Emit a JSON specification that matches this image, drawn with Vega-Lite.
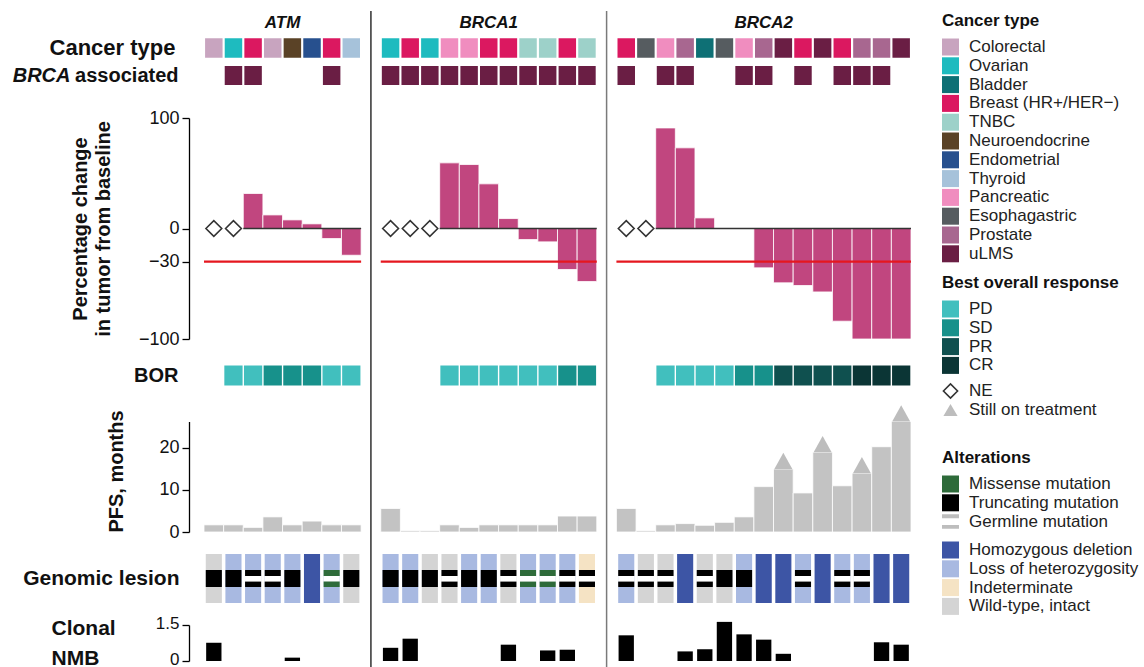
{
"$schema": "https://vega.github.io/schema/vega-lite/v6.json",
"padding": {"left": 12, "top": 10, "right": 0, "bottom": 0},
"datasets": {
"pts": [
{"pid":"A1","cancer":"Colorectal","ba":0,"pct":null,"ne":"NE","bor":null,"pfs":1.7,"still":null,"cn":"Wild-type, intact","mut":"Truncating mutation","germ":0,"nmb":0.76},
{"pid":"A2","cancer":"Ovarian","ba":1,"pct":null,"ne":"NE","bor":"PD","pfs":1.7,"still":null,"cn":"Loss of heterozygosity","mut":"Truncating mutation","germ":0,"nmb":null},
{"pid":"A3","cancer":"Breast (HR+/HER−)","ba":1,"pct":31.7,"ne":null,"bor":"PD","pfs":1.1,"still":null,"cn":"Loss of heterozygosity","mut":"Truncating mutation","germ":1,"nmb":null},
{"pid":"A4","cancer":"Colorectal","ba":0,"pct":12.3,"ne":null,"bor":"SD","pfs":3.6,"still":null,"cn":"Loss of heterozygosity","mut":"Truncating mutation","germ":1,"nmb":null},
{"pid":"A5","cancer":"Neuroendocrine","ba":0,"pct":7.8,"ne":null,"bor":"SD","pfs":1.7,"still":null,"cn":"Loss of heterozygosity","mut":"Truncating mutation","germ":0,"nmb":0.14},
{"pid":"A6","cancer":"Endometrial","ba":0,"pct":4.2,"ne":null,"bor":"SD","pfs":2.6,"still":null,"cn":"Homozygous deletion","mut":null,"germ":0,"nmb":null},
{"pid":"A7","cancer":"Breast (HR+/HER−)","ba":1,"pct":-9.1,"ne":null,"bor":"PD","pfs":1.7,"still":null,"cn":"Loss of heterozygosity","mut":"Missense mutation","germ":1,"nmb":null},
{"pid":"A8","cancer":"Thyroid","ba":0,"pct":-24.2,"ne":null,"bor":"PD","pfs":1.7,"still":null,"cn":"Wild-type, intact","mut":"Truncating mutation","germ":0,"nmb":null},
{"pid":"B1","cancer":"Ovarian","ba":1,"pct":null,"ne":"NE","bor":null,"pfs":5.6,"still":null,"cn":"Loss of heterozygosity","mut":"Truncating mutation","germ":0,"nmb":0.55},
{"pid":"B2","cancer":"Breast (HR+/HER−)","ba":1,"pct":null,"ne":"NE","bor":null,"pfs":0.3,"still":null,"cn":"Loss of heterozygosity","mut":"Truncating mutation","germ":0,"nmb":0.93},
{"pid":"B3","cancer":"Ovarian","ba":1,"pct":null,"ne":"NE","bor":null,"pfs":0.3,"still":null,"cn":"Wild-type, intact","mut":"Truncating mutation","germ":0,"nmb":null},
{"pid":"B4","cancer":"Pancreatic","ba":1,"pct":59.4,"ne":null,"bor":"PD","pfs":1.7,"still":null,"cn":"Wild-type, intact","mut":"Truncating mutation","germ":1,"nmb":null},
{"pid":"B5","cancer":"Pancreatic","ba":1,"pct":57.9,"ne":null,"bor":"PD","pfs":1.1,"still":null,"cn":"Loss of heterozygosity","mut":"Truncating mutation","germ":0,"nmb":null},
{"pid":"B6","cancer":"Breast (HR+/HER−)","ba":1,"pct":40.4,"ne":null,"bor":"PD","pfs":1.7,"still":null,"cn":"Loss of heterozygosity","mut":"Truncating mutation","germ":0,"nmb":null},
{"pid":"B7","cancer":"Breast (HR+/HER−)","ba":1,"pct":9.0,"ne":null,"bor":"PD","pfs":1.7,"still":null,"cn":"Wild-type, intact","mut":"Truncating mutation","germ":1,"nmb":0.68},
{"pid":"B8","cancer":"TNBC","ba":1,"pct":-10.0,"ne":null,"bor":"PD","pfs":1.7,"still":null,"cn":"Loss of heterozygosity","mut":"Missense mutation","germ":1,"nmb":null},
{"pid":"B9","cancer":"TNBC","ba":1,"pct":-12.1,"ne":null,"bor":"PD","pfs":1.7,"still":null,"cn":"Loss of heterozygosity","mut":"Missense mutation","germ":1,"nmb":0.44},
{"pid":"B10","cancer":"Breast (HR+/HER−)","ba":1,"pct":-37.1,"ne":null,"bor":"SD","pfs":3.8,"still":null,"cn":"Loss of heterozygosity","mut":"Truncating mutation","germ":1,"nmb":0.47},
{"pid":"B11","cancer":"TNBC","ba":1,"pct":-48.0,"ne":null,"bor":"SD","pfs":3.8,"still":null,"cn":"Indeterminate","mut":"Truncating mutation","germ":1,"nmb":null},
{"pid":"C1","cancer":"Breast (HR+/HER−)","ba":1,"pct":null,"ne":"NE","bor":null,"pfs":5.6,"still":null,"cn":"Loss of heterozygosity","mut":"Truncating mutation","germ":1,"nmb":1.07},
{"pid":"C2","cancer":"Esophagastric","ba":0,"pct":null,"ne":"NE","bor":null,"pfs":0.3,"still":null,"cn":"Wild-type, intact","mut":"Truncating mutation","germ":1,"nmb":null},
{"pid":"C3","cancer":"Pancreatic","ba":1,"pct":91,"ne":null,"bor":"PD","pfs":1.7,"still":null,"cn":"Wild-type, intact","mut":"Truncating mutation","germ":1,"nmb":null},
{"pid":"C4","cancer":"Prostate","ba":1,"pct":73,"ne":null,"bor":"PD","pfs":2.0,"still":null,"cn":"Homozygous deletion","mut":null,"germ":0,"nmb":0.40},
{"pid":"C5","cancer":"Bladder","ba":0,"pct":9.6,"ne":null,"bor":"PD","pfs":1.6,"still":null,"cn":"Wild-type, intact","mut":"Truncating mutation","germ":1,"nmb":0.49},
{"pid":"C6","cancer":"Esophagastric","ba":0,"pct":0,"ne":null,"bor":"PD","pfs":2.3,"still":null,"cn":"Wild-type, intact","mut":"Truncating mutation","germ":0,"nmb":1.63},
{"pid":"C7","cancer":"Pancreatic","ba":1,"pct":0,"ne":null,"bor":"SD","pfs":3.6,"still":null,"cn":"Loss of heterozygosity","mut":"Truncating mutation","germ":0,"nmb":1.11},
{"pid":"C8","cancer":"Prostate","ba":1,"pct":-35.6,"ne":null,"bor":"SD","pfs":10.8,"still":null,"cn":"Homozygous deletion","mut":null,"germ":0,"nmb":0.89},
{"pid":"C9","cancer":"uLMS","ba":0,"pct":-49.2,"ne":null,"bor":"PR","pfs":15.0,"still":"Still on treatment","cn":"Homozygous deletion","mut":null,"germ":0,"nmb":0.30},
{"pid":"C10","cancer":"Breast (HR+/HER−)","ba":1,"pct":-51.6,"ne":null,"bor":"PR","pfs":9.3,"still":null,"cn":"Loss of heterozygosity","mut":"Truncating mutation","germ":1,"nmb":null},
{"pid":"C11","cancer":"uLMS","ba":0,"pct":-57.4,"ne":null,"bor":"PR","pfs":19.0,"still":"Still on treatment","cn":"Homozygous deletion","mut":null,"germ":0,"nmb":null},
{"pid":"C12","cancer":"Breast (HR+/HER−)","ba":1,"pct":-83.9,"ne":null,"bor":"PR","pfs":11.0,"still":null,"cn":"Loss of heterozygosity","mut":"Truncating mutation","germ":1,"nmb":null},
{"pid":"C13","cancer":"Prostate","ba":1,"pct":-100,"ne":null,"bor":"CR","pfs":14.0,"still":"Still on treatment","cn":"Loss of heterozygosity","mut":"Truncating mutation","germ":1,"nmb":null},
{"pid":"C14","cancer":"Prostate","ba":1,"pct":-100,"ne":null,"bor":"CR","pfs":20.3,"still":null,"cn":"Homozygous deletion","mut":null,"germ":0,"nmb":0.78},
{"pid":"C15","cancer":"uLMS","ba":0,"pct":-100,"ne":null,"bor":"CR","pfs":26.3,"still":"Still on treatment","cn":"Homozygous deletion","mut":null,"germ":0,"nmb":0.68}
],
"panels": [
{"gene":"ATM","first":"A1","last":"A8","z0":"A3","mid":"A4"},
{"gene":"BRCA1","first":"B1","last":"B11","z0":"B4","mid":"B6"},
{"gene":"BRCA2","first":"C1","last":"C15","z0":"C3","mid":"C8"}
]
},
"vconcat": [
{
"width": 707, "height": 23,
"layer": [
{"data": {"values": [{}]}, "mark": {"type": "rule", "color": "#111111", "strokeWidth": 1.3}, "encoding": {"x": {"datum": "g1", "type": "nominal", "scale": {"domain": ["A1","A2","A3","A4","A5","A6","A7","A8","g1","B1","B2","B3","B4","B5","B6","B7","B8","B9","B10","B11","g2","C1","C2","C3","C4","C5","C6","C7","C8","C9","C10","C11","C12","C13","C14","C15"], "paddingInner": 0, "paddingOuter": 0}, "axis": null}}},
{"data": {"values": [{}]}, "mark": {"type": "rule", "color": "#7a7a7a", "strokeWidth": 1.5}, "encoding": {"x": {"datum": "g2", "type": "nominal", "scale": {"domain": ["A1","A2","A3","A4","A5","A6","A7","A8","g1","B1","B2","B3","B4","B5","B6","B7","B8","B9","B10","B11","g2","C1","C2","C3","C4","C5","C6","C7","C8","C9","C10","C11","C12","C13","C14","C15"], "paddingInner": 0, "paddingOuter": 0}, "axis": null}}},
{"data": {"name": "panels"}, "transform": [{"filter": "datum.gene === 'ATM'"}], "mark": {"type": "text", "fontSize": 17, "fontWeight": "bold", "fontStyle": "italic", "color": "#111111", "baseline": "middle"}, "encoding": {"x": {"field": "mid", "type": "nominal", "bandPosition": 1, "scale": {"domain": ["A1","A2","A3","A4","A5","A6","A7","A8","g1","B1","B2","B3","B4","B5","B6","B7","B8","B9","B10","B11","g2","C1","C2","C3","C4","C5","C6","C7","C8","C9","C10","C11","C12","C13","C14","C15"], "paddingInner": 0, "paddingOuter": 0}, "axis": null}, "text": {"field": "gene"}}},
{"data": {"name": "panels"}, "transform": [{"filter": "datum.gene !== 'ATM'"}], "mark": {"type": "text", "fontSize": 17, "fontWeight": "bold", "fontStyle": "italic", "color": "#111111", "baseline": "middle"}, "encoding": {"x": {"field": "mid", "type": "nominal", "scale": {"domain": ["A1","A2","A3","A4","A5","A6","A7","A8","g1","B1","B2","B3","B4","B5","B6","B7","B8","B9","B10","B11","g2","C1","C2","C3","C4","C5","C6","C7","C8","C9","C10","C11","C12","C13","C14","C15"], "paddingInner": 0, "paddingOuter": 0}, "axis": null}, "text": {"field": "gene"}}}
]
},
{
"width": 707, "height": 28,
"layer": [
{"data": {"values": [{}]}, "mark": {"type": "rule", "color": "#111111", "strokeWidth": 1.3}, "encoding": {"x": {"datum": "g1", "type": "nominal", "scale": {"domain": ["A1","A2","A3","A4","A5","A6","A7","A8","g1","B1","B2","B3","B4","B5","B6","B7","B8","B9","B10","B11","g2","C1","C2","C3","C4","C5","C6","C7","C8","C9","C10","C11","C12","C13","C14","C15"], "paddingInner": 0, "paddingOuter": 0}, "axis": null}}},
{"data": {"values": [{}]}, "mark": {"type": "rule", "color": "#7a7a7a", "strokeWidth": 1.5}, "encoding": {"x": {"datum": "g2", "type": "nominal", "scale": {"domain": ["A1","A2","A3","A4","A5","A6","A7","A8","g1","B1","B2","B3","B4","B5","B6","B7","B8","B9","B10","B11","g2","C1","C2","C3","C4","C5","C6","C7","C8","C9","C10","C11","C12","C13","C14","C15"], "paddingInner": 0, "paddingOuter": 0}, "axis": null}}},
{"data": {"name": "pts"}, "mark": {"type": "rect", "width": {"band": 0.89}},
 "encoding": {
  "x": {"field": "pid", "type": "nominal", "scale": {"domain": ["A1","A2","A3","A4","A5","A6","A7","A8","g1","B1","B2","B3","B4","B5","B6","B7","B8","B9","B10","B11","g2","C1","C2","C3","C4","C5","C6","C7","C8","C9","C10","C11","C12","C13","C14","C15"], "paddingInner": 0, "paddingOuter": 0}, "axis": null},
  "y": {"datum": "Cancer type", "type": "nominal", "scale": {"paddingInner": 0, "paddingOuter": 0.218}, "axis": {"title": null, "ticks": false, "tickSize": 0, "domain": false, "labelFontSize": 22, "labelFontWeight": "bold", "labelPadding": 29, "labelColor": "#111111"}},
  "color": {"field": "cancer", "type": "nominal", "scale": {"domain": ["Colorectal","Ovarian","Bladder","Breast (HR+/HER−)","TNBC","Neuroendocrine","Endometrial","Thyroid","Pancreatic","Esophagastric","Prostate","uLMS"], "range": ["#c8a4bf","#1ebbbf","#0e7075","#db1860","#9dd1c9","#5a4226","#27508e","#a6c2da","#f08dbf","#565c60","#a86790","#6a1e44"]}, "legend": {"title": "Cancer type", "orient": "none", "legendX": 738, "legendY": -21}}
 }}
]
},
{
"width": 707, "height": 27,
"layer": [
{"data": {"values": [{}]}, "mark": {"type": "rule", "color": "#111111", "strokeWidth": 1.3}, "encoding": {"x": {"datum": "g1", "type": "nominal", "scale": {"domain": ["A1","A2","A3","A4","A5","A6","A7","A8","g1","B1","B2","B3","B4","B5","B6","B7","B8","B9","B10","B11","g2","C1","C2","C3","C4","C5","C6","C7","C8","C9","C10","C11","C12","C13","C14","C15"], "paddingInner": 0, "paddingOuter": 0}, "axis": null}}},
{"data": {"values": [{}]}, "mark": {"type": "rule", "color": "#7a7a7a", "strokeWidth": 1.5}, "encoding": {"x": {"datum": "g2", "type": "nominal", "scale": {"domain": ["A1","A2","A3","A4","A5","A6","A7","A8","g1","B1","B2","B3","B4","B5","B6","B7","B8","B9","B10","B11","g2","C1","C2","C3","C4","C5","C6","C7","C8","C9","C10","C11","C12","C13","C14","C15"], "paddingInner": 0, "paddingOuter": 0}, "axis": null}}},
{"data": {"name": "pts"}, "transform": [{"filter": "datum.ba === 1"}], "mark": {"type": "rect", "width": {"band": 0.89}, "color": "#6a1e44"},
 "encoding": {
  "x": {"field": "pid", "type": "nominal", "scale": {"domain": ["A1","A2","A3","A4","A5","A6","A7","A8","g1","B1","B2","B3","B4","B5","B6","B7","B8","B9","B10","B11","g2","C1","C2","C3","C4","C5","C6","C7","C8","C9","C10","C11","C12","C13","C14","C15"], "paddingInner": 0, "paddingOuter": 0}, "axis": null},
  "y": {"datum": "associated", "type": "nominal", "scale": {"paddingInner": 0, "paddingOuter": 0.21}, "axis": {"title": "BRCA", "titleFontStyle": "italic", "titleFontWeight": "bold", "titleFontSize": 20, "titleAngle": 0, "titleAlign": "right", "titleBaseline": "middle", "titleX": -134, "titleY": 13.5, "titleColor": "#111111", "ticks": false, "tickSize": 0, "domain": false, "labelFontSize": 20, "labelFontWeight": "bold", "labelPadding": 26, "labelColor": "#111111"}}
 }}
]
},
{
"width": 707, "height": 264,
"layer": [
{"data": {"values": [{}]}, "mark": {"type": "rule", "color": "#111111", "strokeWidth": 1.3}, "encoding": {"x": {"datum": "g1", "type": "nominal", "scale": {"domain": ["A1","A2","A3","A4","A5","A6","A7","A8","g1","B1","B2","B3","B4","B5","B6","B7","B8","B9","B10","B11","g2","C1","C2","C3","C4","C5","C6","C7","C8","C9","C10","C11","C12","C13","C14","C15"], "paddingInner": 0, "paddingOuter": 0}, "axis": null}}},
{"data": {"values": [{}]}, "mark": {"type": "rule", "color": "#7a7a7a", "strokeWidth": 1.5}, "encoding": {"x": {"datum": "g2", "type": "nominal", "scale": {"domain": ["A1","A2","A3","A4","A5","A6","A7","A8","g1","B1","B2","B3","B4","B5","B6","B7","B8","B9","B10","B11","g2","C1","C2","C3","C4","C5","C6","C7","C8","C9","C10","C11","C12","C13","C14","C15"], "paddingInner": 0, "paddingOuter": 0}, "axis": null}}},
{"data": {"name": "pts"}, "transform": [{"filter": "datum.pct != null"}], "mark": {"type": "bar", "color": "#c1467f", "stroke": "#ffffff", "strokeWidth": 0.8},
 "encoding": {
  "x": {"field": "pid", "type": "nominal", "scale": {"domain": ["A1","A2","A3","A4","A5","A6","A7","A8","g1","B1","B2","B3","B4","B5","B6","B7","B8","B9","B10","B11","g2","C1","C2","C3","C4","C5","C6","C7","C8","C9","C10","C11","C12","C13","C14","C15"], "paddingInner": 0, "paddingOuter": 0}, "axis": null},
  "y": {"field": "pct", "type": "quantitative", "scale": {"domain": [-100, 100], "range": [250, 29], "nice": false}, "axis": {"values": [100, 0, -30, -100], "labelExpr": "datum.value < 0 ? '−' + (-datum.value) : '' + datum.value", "offset": 15, "tickSize": 7, "labelPadding": 3, "labelFontSize": 18, "title": ["Percentage change", "in tumor from baseline"], "titleFontSize": 20, "titleFontWeight": "bold", "titleAngle": -90, "titleAlign": "center", "titleBaseline": "middle", "titleX": -109, "titleY": 139.5, "titleLineHeight": 23}}
 }},
{"data": {"name": "panels"}, "mark": {"type": "rule", "color": "#333333", "strokeWidth": 1.5},
 "encoding": {
  "x": {"field": "z0", "type": "nominal", "bandPosition": 0, "scale": {"domain": ["A1","A2","A3","A4","A5","A6","A7","A8","g1","B1","B2","B3","B4","B5","B6","B7","B8","B9","B10","B11","g2","C1","C2","C3","C4","C5","C6","C7","C8","C9","C10","C11","C12","C13","C14","C15"], "paddingInner": 0, "paddingOuter": 0}, "axis": null},
  "x2": {"field": "last", "bandPosition": 1},
  "y": {"datum": 0, "type": "quantitative", "scale": {"domain": [-100, 100], "range": [250, 29], "nice": false}}
 }},
{"data": {"name": "panels"}, "mark": {"type": "rule", "color": "#e5171f", "strokeWidth": 2.2},
 "encoding": {
  "x": {"field": "first", "type": "nominal", "bandPosition": 0, "scale": {"domain": ["A1","A2","A3","A4","A5","A6","A7","A8","g1","B1","B2","B3","B4","B5","B6","B7","B8","B9","B10","B11","g2","C1","C2","C3","C4","C5","C6","C7","C8","C9","C10","C11","C12","C13","C14","C15"], "paddingInner": 0, "paddingOuter": 0}, "axis": null},
  "x2": {"field": "last", "bandPosition": 1},
  "y": {"datum": -30, "type": "quantitative", "scale": {"domain": [-100, 100], "range": [250, 29], "nice": false}}
 }},
{"data": {"name": "pts"}, "transform": [{"filter": "datum.ne != null"}], "mark": {"type": "point", "shape": "diamond", "size": 250, "filled": true, "fill": "#ffffff", "strokeWidth": 1.6, "opacity": 1},
 "encoding": {
  "x": {"field": "pid", "type": "nominal", "scale": {"domain": ["A1","A2","A3","A4","A5","A6","A7","A8","g1","B1","B2","B3","B4","B5","B6","B7","B8","B9","B10","B11","g2","C1","C2","C3","C4","C5","C6","C7","C8","C9","C10","C11","C12","C13","C14","C15"], "paddingInner": 0, "paddingOuter": 0}, "axis": null},
  "y": {"datum": 0, "type": "quantitative", "scale": {"domain": [-100, 100], "range": [250, 29], "nice": false}},
  "stroke": {"field": "ne", "type": "nominal", "scale": {"domain": ["NE"], "range": ["#333333"]}, "legend": {"title": null, "orient": "none", "legendX": 738, "legendY": 293.5, "symbolType": "diamond", "symbolSize": 200, "symbolStrokeWidth": 1.6, "symbolFillColor": "#ffffff"}}
 }}
]
},
{
"width": 707, "height": 45,
"layer": [
{"data": {"values": [{}]}, "mark": {"type": "rule", "color": "#111111", "strokeWidth": 1.3}, "encoding": {"x": {"datum": "g1", "type": "nominal", "scale": {"domain": ["A1","A2","A3","A4","A5","A6","A7","A8","g1","B1","B2","B3","B4","B5","B6","B7","B8","B9","B10","B11","g2","C1","C2","C3","C4","C5","C6","C7","C8","C9","C10","C11","C12","C13","C14","C15"], "paddingInner": 0, "paddingOuter": 0}, "axis": null}}},
{"data": {"values": [{}]}, "mark": {"type": "rule", "color": "#7a7a7a", "strokeWidth": 1.5}, "encoding": {"x": {"datum": "g2", "type": "nominal", "scale": {"domain": ["A1","A2","A3","A4","A5","A6","A7","A8","g1","B1","B2","B3","B4","B5","B6","B7","B8","B9","B10","B11","g2","C1","C2","C3","C4","C5","C6","C7","C8","C9","C10","C11","C12","C13","C14","C15"], "paddingInner": 0, "paddingOuter": 0}, "axis": null}}},
{"data": {"name": "pts"}, "transform": [{"filter": "datum.bor != null"}], "mark": {"type": "rect", "width": {"band": 0.93}},
 "encoding": {
  "x": {"field": "pid", "type": "nominal", "scale": {"domain": ["A1","A2","A3","A4","A5","A6","A7","A8","g1","B1","B2","B3","B4","B5","B6","B7","B8","B9","B10","B11","g2","C1","C2","C3","C4","C5","C6","C7","C8","C9","C10","C11","C12","C13","C14","C15"], "paddingInner": 0, "paddingOuter": 0}, "axis": null},
  "y": {"datum": "BOR", "type": "nominal", "scale": {"paddingInner": 0, "paddingOuter": 0.625}, "axis": {"title": null, "ticks": false, "tickSize": 0, "domain": false, "labelFontSize": 20, "labelFontWeight": "bold", "labelPadding": 26, "labelColor": "#111111"}},
  "color": {"field": "bor", "type": "nominal", "scale": {"domain": ["PD","SD","PR","CR"], "range": ["#41bfbe","#17918b","#0f504f","#0b3535"]}, "legend": {"title": "Best overall response", "orient": "none", "legendX": 738, "legendY": -78}}
 }}
]
},
{
"width": 707, "height": 144,
"layer": [
{"data": {"values": [{}]}, "mark": {"type": "rule", "color": "#111111", "strokeWidth": 1.3}, "encoding": {"x": {"datum": "g1", "type": "nominal", "scale": {"domain": ["A1","A2","A3","A4","A5","A6","A7","A8","g1","B1","B2","B3","B4","B5","B6","B7","B8","B9","B10","B11","g2","C1","C2","C3","C4","C5","C6","C7","C8","C9","C10","C11","C12","C13","C14","C15"], "paddingInner": 0, "paddingOuter": 0}, "axis": null}}},
{"data": {"values": [{}]}, "mark": {"type": "rule", "color": "#7a7a7a", "strokeWidth": 1.5}, "encoding": {"x": {"datum": "g2", "type": "nominal", "scale": {"domain": ["A1","A2","A3","A4","A5","A6","A7","A8","g1","B1","B2","B3","B4","B5","B6","B7","B8","B9","B10","B11","g2","C1","C2","C3","C4","C5","C6","C7","C8","C9","C10","C11","C12","C13","C14","C15"], "paddingInner": 0, "paddingOuter": 0}, "axis": null}}},
{"data": {"name": "pts"}, "mark": {"type": "bar", "color": "#c3c3c3", "stroke": "#ffffff", "strokeWidth": 0.8},
 "encoding": {
  "x": {"field": "pid", "type": "nominal", "scale": {"domain": ["A1","A2","A3","A4","A5","A6","A7","A8","g1","B1","B2","B3","B4","B5","B6","B7","B8","B9","B10","B11","g2","C1","C2","C3","C4","C5","C6","C7","C8","C9","C10","C11","C12","C13","C14","C15"], "paddingInner": 0, "paddingOuter": 0}, "axis": null},
  "y": {"field": "pfs", "type": "quantitative", "scale": {"domain": [0, 26.3], "range": [134, 23.5], "nice": false}, "axis": {"values": [0, 10, 20], "offset": 15, "tickSize": 7, "labelPadding": 3, "labelFontSize": 18, "title": "PFS, months", "titleFontSize": 20, "titleFontWeight": "bold", "titleAngle": -90, "titleAlign": "center", "titleBaseline": "middle", "titleX": -73, "titleY": 73}}
 }},
{"data": {"name": "pts"}, "transform": [{"filter": "datum.still != null"}], "mark": {"type": "point", "shape": "M-1,0L1,0L0,-1.8Z", "size": 324, "filled": true, "opacity": 1, "strokeWidth": 0},
 "encoding": {
  "x": {"field": "pid", "type": "nominal", "scale": {"domain": ["A1","A2","A3","A4","A5","A6","A7","A8","g1","B1","B2","B3","B4","B5","B6","B7","B8","B9","B10","B11","g2","C1","C2","C3","C4","C5","C6","C7","C8","C9","C10","C11","C12","C13","C14","C15"], "paddingInner": 0, "paddingOuter": 0}, "axis": null},
  "y": {"field": "pfs", "type": "quantitative", "scale": {"domain": [0, 26.3], "range": [134, 23.5], "nice": false}},
  "color": {"field": "still", "type": "nominal", "scale": {"domain": ["Still on treatment"], "range": ["#bdbdbd"]}, "legend": {"title": null, "orient": "none", "legendX": 738, "legendY": 3.5, "symbolType": "triangle-up", "symbolSize": 200}}
 }}
]
},
{
"width": 707, "height": 73,
"resolve": {"scale": {"color": "independent"}},
"layer": [
{"data": {"values": [{}]}, "mark": {"type": "rule", "color": "#111111", "strokeWidth": 1.3}, "encoding": {"x": {"datum": "g1", "type": "nominal", "scale": {"domain": ["A1","A2","A3","A4","A5","A6","A7","A8","g1","B1","B2","B3","B4","B5","B6","B7","B8","B9","B10","B11","g2","C1","C2","C3","C4","C5","C6","C7","C8","C9","C10","C11","C12","C13","C14","C15"], "paddingInner": 0, "paddingOuter": 0}, "axis": null}}},
{"data": {"values": [{}]}, "mark": {"type": "rule", "color": "#7a7a7a", "strokeWidth": 1.5}, "encoding": {"x": {"datum": "g2", "type": "nominal", "scale": {"domain": ["A1","A2","A3","A4","A5","A6","A7","A8","g1","B1","B2","B3","B4","B5","B6","B7","B8","B9","B10","B11","g2","C1","C2","C3","C4","C5","C6","C7","C8","C9","C10","C11","C12","C13","C14","C15"], "paddingInner": 0, "paddingOuter": 0}, "axis": null}}},
{"data": {"name": "pts"}, "mark": {"type": "rect", "width": {"band": 0.82}},
 "encoding": {
  "x": {"field": "pid", "type": "nominal", "scale": {"domain": ["A1","A2","A3","A4","A5","A6","A7","A8","g1","B1","B2","B3","B4","B5","B6","B7","B8","B9","B10","B11","g2","C1","C2","C3","C4","C5","C6","C7","C8","C9","C10","C11","C12","C13","C14","C15"], "paddingInner": 0, "paddingOuter": 0}, "axis": null},
  "y": {"datum": 0, "type": "quantitative", "scale": {"domain": [0, 1], "range": [12, 61], "nice": false}, "axis": {"labels": false, "ticks": false, "domain": false, "title": "Genomic lesion", "titleFontSize": 21, "titleFontWeight": "bold", "titleAngle": 0, "titleAlign": "right", "titleBaseline": "middle", "titleX": -25, "titleY": 36.5}},
  "y2": {"datum": 1},
  "color": {"field": "cn", "type": "nominal", "scale": {"domain": ["Homozygous deletion","Loss of heterozygosity","Indeterminate","Wild-type, intact"], "range": ["#3d55a5","#a8b9e1","#f5e3c4","#d4d4d4"]}, "legend": {"title": null, "orient": "none", "legendX": 738, "legendY": -0.5}}
 }},
{"data": {"name": "pts"}, "transform": [{"filter": "datum.mut != null && datum.germ === 0"}], "mark": {"type": "rect", "width": {"band": 0.82}},
 "encoding": {
  "x": {"field": "pid", "type": "nominal", "scale": {"domain": ["A1","A2","A3","A4","A5","A6","A7","A8","g1","B1","B2","B3","B4","B5","B6","B7","B8","B9","B10","B11","g2","C1","C2","C3","C4","C5","C6","C7","C8","C9","C10","C11","C12","C13","C14","C15"], "paddingInner": 0, "paddingOuter": 0}, "axis": null},
  "y": {"datum": 0.327, "type": "quantitative", "scale": {"domain": [0, 1], "range": [12, 61], "nice": false}, "axis": {"labels": false, "ticks": false, "domain": false, "title": "Genomic lesion", "titleFontSize": 21, "titleFontWeight": "bold", "titleAngle": 0, "titleAlign": "right", "titleBaseline": "middle", "titleX": -25, "titleY": 36.5}},
  "y2": {"datum": 0.673},
  "color": {"field": "mut", "type": "nominal", "scale": {"domain": ["Missense mutation","Truncating mutation","Germline mutation"], "range": ["#2e6b3a","#000000","#bdbdbd"]}, "legend": {"title": "Alterations", "orient": "none", "legendX": 738, "legendY": -92, "encode": {"symbols": {"update": {"shape": {"signal": "datum.value === 'Germline mutation' ? 'M-1,-0.85H1V-0.4H-1Z M-1,0.4H1V0.85H-1Z' : 'square'"}}}}}}
 }},
{"data": {"name": "pts"}, "transform": [{"filter": "datum.germ === 1"}], "mark": {"type": "rect", "width": {"band": 0.82}, "color": "#ffffff"},
 "encoding": {
  "x": {"field": "pid", "type": "nominal", "scale": {"domain": ["A1","A2","A3","A4","A5","A6","A7","A8","g1","B1","B2","B3","B4","B5","B6","B7","B8","B9","B10","B11","g2","C1","C2","C3","C4","C5","C6","C7","C8","C9","C10","C11","C12","C13","C14","C15"], "paddingInner": 0, "paddingOuter": 0}, "axis": null},
  "y": {"datum": 0.327, "type": "quantitative", "scale": {"domain": [0, 1], "range": [12, 61], "nice": false}, "axis": {"labels": false, "ticks": false, "domain": false, "title": "Genomic lesion", "titleFontSize": 21, "titleFontWeight": "bold", "titleAngle": 0, "titleAlign": "right", "titleBaseline": "middle", "titleX": -25, "titleY": 36.5}},
  "y2": {"datum": 0.673}
 }},
{"data": {"name": "pts"}, "transform": [{"filter": "datum.germ === 1"}], "mark": {"type": "rect", "width": {"band": 0.82}},
 "encoding": {
  "x": {"field": "pid", "type": "nominal", "scale": {"domain": ["A1","A2","A3","A4","A5","A6","A7","A8","g1","B1","B2","B3","B4","B5","B6","B7","B8","B9","B10","B11","g2","C1","C2","C3","C4","C5","C6","C7","C8","C9","C10","C11","C12","C13","C14","C15"], "paddingInner": 0, "paddingOuter": 0}, "axis": null},
  "y": {"datum": 0.327, "type": "quantitative", "scale": {"domain": [0, 1], "range": [12, 61], "nice": false}, "axis": {"labels": false, "ticks": false, "domain": false, "title": "Genomic lesion", "titleFontSize": 21, "titleFontWeight": "bold", "titleAngle": 0, "titleAlign": "right", "titleBaseline": "middle", "titleX": -25, "titleY": 36.5}},
  "y2": {"datum": 0.449},
  "color": {"field": "mut", "type": "nominal", "scale": {"domain": ["Missense mutation","Truncating mutation","Germline mutation"], "range": ["#2e6b3a","#000000","#bdbdbd"]}, "legend": null}
 }},
{"data": {"name": "pts"}, "transform": [{"filter": "datum.germ === 1"}], "mark": {"type": "rect", "width": {"band": 0.82}},
 "encoding": {
  "x": {"field": "pid", "type": "nominal", "scale": {"domain": ["A1","A2","A3","A4","A5","A6","A7","A8","g1","B1","B2","B3","B4","B5","B6","B7","B8","B9","B10","B11","g2","C1","C2","C3","C4","C5","C6","C7","C8","C9","C10","C11","C12","C13","C14","C15"], "paddingInner": 0, "paddingOuter": 0}, "axis": null},
  "y": {"datum": 0.563, "type": "quantitative", "scale": {"domain": [0, 1], "range": [12, 61], "nice": false}, "axis": {"labels": false, "ticks": false, "domain": false, "title": "Genomic lesion", "titleFontSize": 21, "titleFontWeight": "bold", "titleAngle": 0, "titleAlign": "right", "titleBaseline": "middle", "titleX": -25, "titleY": 36.5}},
  "y2": {"datum": 0.673},
  "color": {"field": "mut", "type": "nominal", "scale": {"domain": ["Missense mutation","Truncating mutation","Germline mutation"], "range": ["#2e6b3a","#000000","#bdbdbd"]}, "legend": null}
 }}
]
},
{
"width": 707, "height": 53,
"layer": [
{"data": {"values": [{}]}, "mark": {"type": "rule", "color": "#111111", "strokeWidth": 1.3}, "encoding": {"x": {"datum": "g1", "type": "nominal", "scale": {"domain": ["A1","A2","A3","A4","A5","A6","A7","A8","g1","B1","B2","B3","B4","B5","B6","B7","B8","B9","B10","B11","g2","C1","C2","C3","C4","C5","C6","C7","C8","C9","C10","C11","C12","C13","C14","C15"], "paddingInner": 0, "paddingOuter": 0}, "axis": null}}},
{"data": {"values": [{}]}, "mark": {"type": "rule", "color": "#7a7a7a", "strokeWidth": 1.5}, "encoding": {"x": {"datum": "g2", "type": "nominal", "scale": {"domain": ["A1","A2","A3","A4","A5","A6","A7","A8","g1","B1","B2","B3","B4","B5","B6","B7","B8","B9","B10","B11","g2","C1","C2","C3","C4","C5","C6","C7","C8","C9","C10","C11","C12","C13","C14","C15"], "paddingInner": 0, "paddingOuter": 0}, "axis": null}}},
{"data": {"name": "pts"}, "transform": [{"filter": "datum.nmb != null"}], "mark": {"type": "bar", "color": "#000000", "width": {"band": 0.78}},
 "encoding": {
  "x": {"field": "pid", "type": "nominal", "scale": {"domain": ["A1","A2","A3","A4","A5","A6","A7","A8","g1","B1","B2","B3","B4","B5","B6","B7","B8","B9","B10","B11","g2","C1","C2","C3","C4","C5","C6","C7","C8","C9","C10","C11","C12","C13","C14","C15"], "paddingInner": 0, "paddingOuter": 0}, "axis": null},
  "y": {"field": "nmb", "type": "quantitative", "scale": {"domain": [0, 1.5], "range": [46, 10], "nice": false}, "axis": {"values": [0, 1.5], "labelExpr": "'' + datum.value", "labelOffset": -2, "offset": 15, "tickSize": 7, "labelPadding": 3, "labelFontSize": 17, "title": ["Clonal", "NMB"], "titleFontSize": 21, "titleFontWeight": "bold", "titleAngle": 0, "titleAlign": "left", "titleBaseline": "middle", "titleX": -138, "titleY": 13, "titleLineHeight": 30}}
 }}
]
}
],
"spacing": 0,
"bounds": "flush",
"resolve": {"scale": {"color": "independent", "stroke": "independent"}},
"config": {
 "font": "Liberation Sans",
 "view": {"stroke": null},
 "axis": {"grid": false, "domainColor": "#000000", "tickColor": "#000000", "labelColor": "#111111", "titleColor": "#111111", "domainWidth": 1.3, "tickWidth": 1.3},
 "legend": {"titleFontSize": 17, "titleFontWeight": "bold", "titleColor": "#111111", "labelFontSize": 17, "labelColor": "#222222", "symbolSize": 289, "symbolType": "square", "symbolStrokeWidth": 0, "symbolOpacity": 1, "rowPadding": 0.8, "labelOffset": 10, "titlePadding": 8.5, "padding": 0, "labelLimit": 300, "titleLimit": 300}
}
}
